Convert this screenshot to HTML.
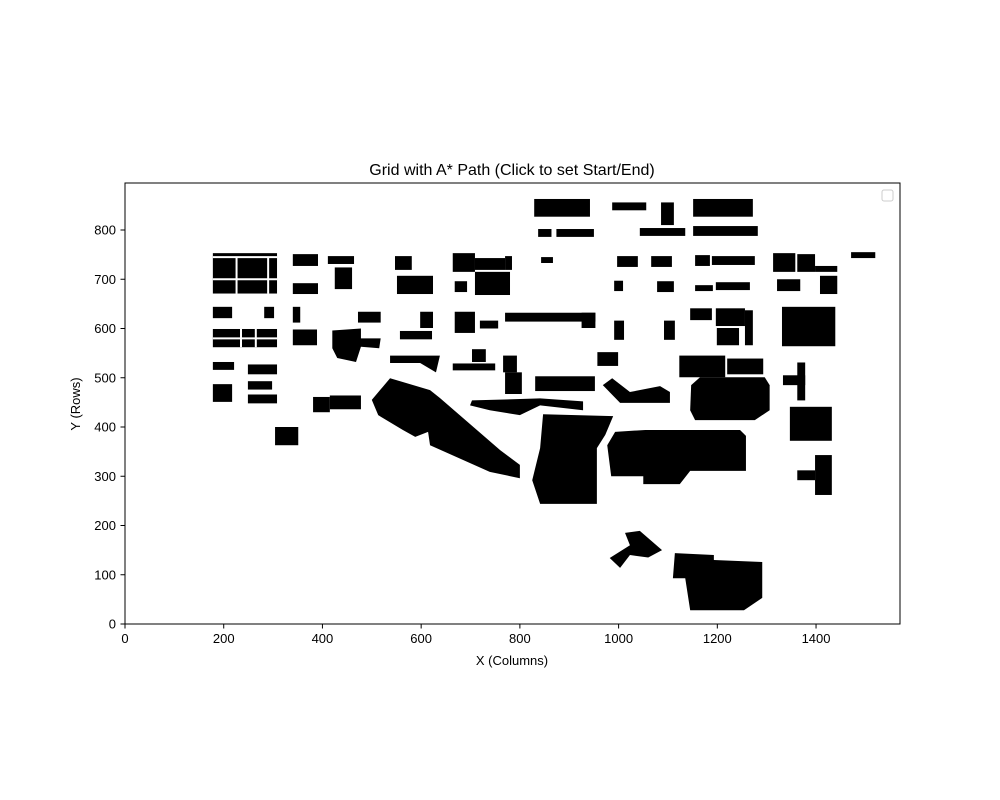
<!DOCTYPE html>
<html><head><meta charset="utf-8"><style>
body{margin:0;background:#fff;}
svg{display:block;font-family:"Liberation Sans","DejaVu Sans",sans-serif;}
</style></head><body>
<svg id="chart" width="1000" height="800" viewBox="0 0 1000 800" xmlns="http://www.w3.org/2000/svg">
<rect width="1000" height="800" fill="#fff"/>
<text x="512" y="175" font-size="16" text-anchor="middle">Grid with A* Path (Click to set Start/End)</text>
<g id="marks"></g>
<rect x="125" y="183" width="775" height="441" fill="none" stroke="#000" stroke-width="1"/>
<g id="axes"></g>
<rect x="882" y="190" width="11" height="11" rx="2" fill="#fff" stroke="#ccc"/>
<text x="512" y="665" font-size="13" text-anchor="middle">X (Columns)</text>
<text x="80" y="404" font-size="13" text-anchor="middle" transform="rotate(-90 80 404)">Y (Rows)</text>
</svg>
<script>
const xTicks=[0,200,400,600,800,1000,1200,1400];
const yTicks=[0,100,200,300,400,500,600,700,800];
// building rectangles [x0,x1,y0,y1] in grid units
const rects=[
[829,942,827,863],[837,864,786,802],[874,950,786,802],[987,1056,840,856],[1086,1112,810,856],[1043,1135,788,804],[1151,1272,827,863],[1151,1282,788,808],
[178,308,671,753],[340,391,727,751],[340,391,670,692],[411,464,731,747],[425,460,680,724],[547,581,719,747],[551,624,670,707],[664,709,715,753],[709,770,719,743],[709,780,668,715],[770,784,719,747],[668,693,674,696],[843,867,733,745],
[997,1039,725,747],[991,1009,676,697],[1066,1108,725,747],[1078,1112,674,696],[1155,1185,727,749],[1189,1276,729,747],[1155,1191,676,688],[1197,1266,678,694],
[1313,1358,715,753],[1362,1398,715,751],[1398,1443,715,727],[1408,1443,670,707],[1321,1368,676,700],[1471,1520,743,755],[1331,1439,564,644],
[178,217,621,644],[178,308,562,599],[282,302,621,644],[340,355,612,644],[340,389,566,598],[472,518,612,634],[557,622,578,595],[598,624,601,634],[668,709,591,634],[719,756,600,616],[770,953,614,632],[925,953,601,632],[991,1011,577,616],[1092,1114,577,616],[1145,1189,617,641],[1197,1256,605,641],[1199,1244,566,601],[1256,1272,566,637],
[178,221,516,532],[178,217,451,487],[249,308,507,527],[249,298,476,493],[249,308,448,466],[664,750,515,529],[703,731,532,558],[766,794,511,545],[770,804,467,511],[831,952,473,503],[957,999,524,552],[1123,1216,501,545],[1220,1293,507,539],
[304,351,363,400],[381,415,430,461],[415,478,436,464],[1347,1432,372,441],[1398,1432,262,343],[1362,1398,292,312],[1333,1378,485,505],[1362,1378,454,531]
];
// building polygons
const polys=[
[[500,455],[537,499],[618,475],[638,459],[760,353],[800,323],[800,296],[739,309],[618,363],[614,390],[588,380],[563,394],[513,424]],
[[847,426],[989,422],[973,384],[956,357],[956,244],[841,244],[825,292],[841,357]],
[[993,390],[1054,394],[1246,394],[1258,382],[1258,311],[1145,311],[1124,284],[1050,284],[1050,300],[985,300],[977,363]],
[[1165,501],[1296,501],[1306,485],[1306,434],[1276,414],[1155,414],[1145,434],[1147,485]],
[[1114,144],[1193,140],[1193,130],[1291,126],[1291,53],[1254,28],[1145,28],[1135,93],[1110,93]],
[[1013,185],[1043,189],[1088,150],[1060,135],[1023,140],[1003,114],[982,134],[1023,160]],
[[968,485],[987,499],[1023,471],[1084,483],[1104,471],[1104,449],[1003,449]],
[[703,454],[841,458],[928,452],[928,434],[841,444],[800,424],[739,434],[699,444]],
[[420,596],[478,600],[478,580],[518,580],[515,560],[478,563],[468,532],[430,540],[420,560]],
[[537,545],[638,545],[630,511],[598,530],[537,530]]
];
const X0=125,Y0=624,SX=0.4936,SY=0.4925;
function sx(v){return X0+v*SX;}
function sy(v){return Y0-v*SY;}
const NS="http://www.w3.org/2000/svg";
const marks=document.getElementById('marks');
rects.forEach(r=>{
 const e=document.createElementNS(NS,'rect');
 e.setAttribute('x',sx(r[0]));e.setAttribute('y',sy(r[3]));
 e.setAttribute('width',(r[1]-r[0])*SX);e.setAttribute('height',(r[3]-r[2])*SY);
 e.setAttribute('fill','#000');
 
 
 marks.appendChild(e);
});
polys.forEach(p=>{
 const e=document.createElementNS(NS,'polygon');
 e.setAttribute('points',p.map(q=>sx(q[0])+','+sy(q[1])).join(' '));
 e.setAttribute('fill','#000');
 
 
 marks.appendChild(e);
});
[[178,308,745],[178,308,700],[226,226,671,745],[290,290,671,745],[178,308,580],[235,235,562,599],[265,265,562,599]].forEach(l=>{
 const e=document.createElementNS(NS,'line');
 if(l.length===3){e.setAttribute('x1',sx(l[0]));e.setAttribute('x2',sx(l[1]));e.setAttribute('y1',sy(l[2]));e.setAttribute('y2',sy(l[2]));}
 else{e.setAttribute('x1',sx(l[0]));e.setAttribute('x2',sx(l[1]));e.setAttribute('y1',sy(l[2]));e.setAttribute('y2',sy(l[3]));}
 e.setAttribute('stroke','#fff');e.setAttribute('stroke-width','2');
 
 
 marks.appendChild(e);
});
const axes=document.getElementById('axes');
xTicks.forEach(t=>{
 const l=document.createElementNS(NS,'line');
 l.setAttribute('x1',sx(t));l.setAttribute('x2',sx(t));l.setAttribute('y1',624);l.setAttribute('y2',628.5);l.setAttribute('stroke','#000');
 
 
 axes.appendChild(l);
 const tx=document.createElementNS(NS,'text');
 tx.setAttribute('x',sx(t));tx.setAttribute('y',643);tx.setAttribute('font-size','13');tx.setAttribute('text-anchor','middle');tx.textContent=t;
 
 
 axes.appendChild(tx);
});
yTicks.forEach(t=>{
 const l=document.createElementNS(NS,'line');
 l.setAttribute('x1',120.5);l.setAttribute('x2',125);l.setAttribute('y1',sy(t));l.setAttribute('y2',sy(t));l.setAttribute('stroke','#000');
 
 
 axes.appendChild(l);
 const tx=document.createElementNS(NS,'text');
 tx.setAttribute('x',116);tx.setAttribute('y',sy(t)+4.5);tx.setAttribute('font-size','13');tx.setAttribute('text-anchor','end');tx.textContent=t;
 
 
 axes.appendChild(tx);
});
</script>
</body></html>
